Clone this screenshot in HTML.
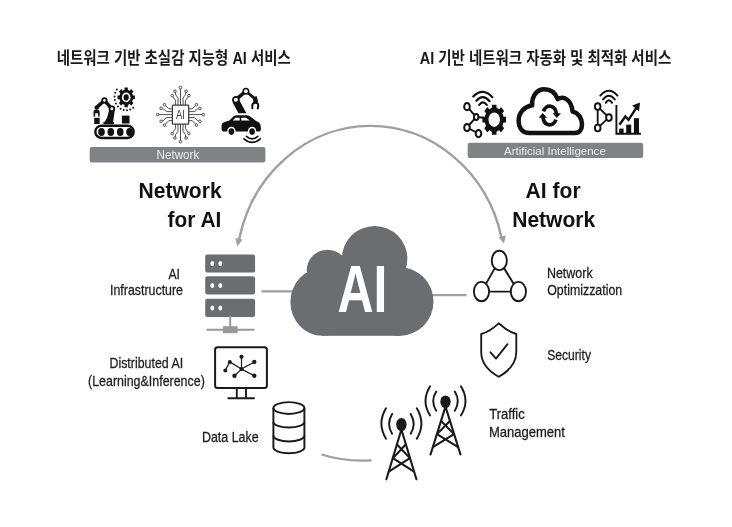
<!DOCTYPE html>
<html lang="ko">
<head>
<meta charset="utf-8">
<title>Network for AI / AI for Network</title>
<style>
html,body{margin:0;padding:0;background:#fff;}
body{width:732px;height:527px;overflow:hidden;font-family:"Liberation Sans",sans-serif;}
svg{display:block;filter:blur(0.4px);}
text{font-family:"Liberation Sans",sans-serif;}
.lbl{font-size:14.8px;fill:#1c1c1c;stroke:#1c1c1c;stroke-width:0.28px;}
.big{font-size:21.6px;font-weight:bold;fill:#111;}
.bar{font-size:12.2px;fill:#ededed;}
.ttl{font-family:"Liberation Sans","Noto Sans CJK KR",sans-serif;font-size:16.5px;font-weight:bold;fill:#1a1a1a;}
</style>
</head>
<body>
<svg width="732" height="527" viewBox="0 0 732 527">
<rect width="732" height="527" fill="#ffffff"/>

<!-- Korean titles -->
<text id="title-left" class="ttl" x="56.7" y="64.2" textLength="234.1" lengthAdjust="spacingAndGlyphs">네트워크 기반 초실감 지능형 AI 서비스</text>
<text id="title-right" class="ttl" x="419.8" y="64.1" textLength="251.5" lengthAdjust="spacingAndGlyphs">AI 기반 네트워크 자동화 및 최적화 서비스</text>

<!-- ===== big arc with arrows ===== -->
<g id="arc" fill="none" stroke="#9d9fa2" stroke-width="2.4">
  <path d="M239.1 239.5 A134.5 144.4 0 0 1 501.5 237.5"/>
</g>
<path fill="#9d9fa2" d="M237.2 246.6 L235.4 238 L242.6 239.6 Z"/>
<path fill="#9d9fa2" d="M503.9 243.6 L498.5 237.3 L505.9 235.4 Z"/>
<!-- bottom arc -->
<path d="M321.5 454.5 Q345 462 371.5 460.3" fill="none" stroke="#9d9fa2" stroke-width="2.2"/>
<!-- connectors -->
<path d="M261.5 291.4 H293 M433 295.2 H466.5" fill="none" stroke="#9d9fa2" stroke-width="2.3"/>

<!-- ===== bars ===== -->
<rect x="89.7" y="146.9" width="175.7" height="15.6" rx="2.2" fill="#808285"/>
<text class="bar" x="156.6" y="159.3" textLength="42.6" lengthAdjust="spacingAndGlyphs">Network</text>
<rect x="467.7" y="142.8" width="175.5" height="15.2" rx="2.2" fill="#808285"/>
<text class="bar" x="504" y="154.7" textLength="101.8" lengthAdjust="spacingAndGlyphs" style="font-size:11.8px">Artificial Intelligence</text>

<!-- ===== headings ===== -->
<text class="big" x="138.6" y="198.1" textLength="83" lengthAdjust="spacingAndGlyphs">Network</text>
<text class="big" x="167.6" y="226.8" textLength="53.8" lengthAdjust="spacingAndGlyphs">for AI</text>
<text class="big" x="525.6" y="198.1" textLength="55" lengthAdjust="spacingAndGlyphs">AI for</text>
<text class="big" x="512.2" y="226.8" textLength="83" lengthAdjust="spacingAndGlyphs">Network</text>

<!-- ===== labels ===== -->
<text class="lbl" x="168.5" y="278.9" textLength="11.5" lengthAdjust="spacingAndGlyphs">AI</text>
<text class="lbl" x="110" y="295.3" textLength="73" lengthAdjust="spacingAndGlyphs">Infrastructure</text>
<text class="lbl" x="109.5" y="368.1" textLength="73.6" lengthAdjust="spacingAndGlyphs">Distributed AI</text>
<text class="lbl" x="88" y="386.1" textLength="116.8" lengthAdjust="spacingAndGlyphs">(Learning&amp;Inference)</text>
<text class="lbl" x="202" y="441.9" textLength="56.6" lengthAdjust="spacingAndGlyphs">Data Lake</text>
<text class="lbl" x="546.9" y="278.2" textLength="45.8" lengthAdjust="spacingAndGlyphs">Network</text>
<text class="lbl" x="547.2" y="295.4" textLength="75" lengthAdjust="spacingAndGlyphs">Optimizzation</text>
<text class="lbl" x="547.2" y="359.5" textLength="43.8" lengthAdjust="spacingAndGlyphs">Security</text>
<text class="lbl" x="489.3" y="419.0" textLength="35.5" lengthAdjust="spacingAndGlyphs">Traffic</text>
<text class="lbl" x="488.9" y="437.0" textLength="76" lengthAdjust="spacingAndGlyphs">Management</text>

<!-- ===== central cloud ===== -->
<g id="cloud" fill="#6c6d70">
  <circle cx="374.6" cy="258.8" r="32.8"/>
  <circle cx="327.5" cy="270.5" r="20.8"/>
  <ellipse cx="322.4" cy="302" rx="32" ry="33.8"/>
  <circle cx="399" cy="301.5" r="34.5"/>
  <rect x="322" y="272" width="77" height="63.8"/>
</g>
<text id="ai-big" x="337.5" y="312.2" textLength="49.9" lengthAdjust="spacingAndGlyphs" style="font-size:67px;font-weight:bold;fill:#ffffff">AI</text>

<!-- ===== servers ===== -->
<g id="servers">
  <g fill="#6c6d70">
    <rect x="205.2" y="254.4" width="49.9" height="18.2" rx="2.2"/>
    <rect x="205.2" y="276.3" width="49.9" height="18.2" rx="2.2"/>
    <rect x="205.2" y="298.7" width="49.9" height="18.2" rx="2.2"/>
  </g>
  <g fill="#ffffff">
    <ellipse cx="212.3" cy="263.6" rx="1.9" ry="2.5"/><ellipse cx="220.3" cy="263.6" rx="1.9" ry="2.5"/>
    <ellipse cx="212.3" cy="285.5" rx="1.9" ry="2.5"/><ellipse cx="220.3" cy="285.5" rx="1.9" ry="2.5"/>
    <ellipse cx="212.3" cy="307.9" rx="1.9" ry="2.5"/><ellipse cx="220.3" cy="307.9" rx="1.9" ry="2.5"/>
  </g>
  <path d="M230.2 316.5 V327 M207.3 329.8 H253.7" stroke="#97999c" stroke-width="2" fill="none" stroke-linecap="round"/>
  <rect x="223" y="326.2" width="14.6" height="7" fill="#97999c"/>
</g>

<!-- ===== monitor (Distributed AI) ===== -->
<g id="monitor" fill="none" stroke="#1a1a1a">
  <rect x="215.1" y="347.3" width="51.8" height="40.6" rx="2.5" stroke-width="2"/>
  <path d="M236.8 388.5 V398 M246 388.5 V398 M228.3 398.3 H254" stroke-width="1.9" stroke-linecap="round"/>
  <path d="M241.5 369.1 L241.5 356.8 M241.5 369.1 L229.8 361.9 L225.3 370.4 M241.5 369.1 L234.5 375.7 M241.5 369.1 L254.3 361.9 M241.5 369.1 L254.3 375.7" stroke-width="1.2"/>
  <g fill="#1a1a1a" stroke="none">
    <circle cx="241.5" cy="369.1" r="2.1"/>
    <circle cx="241.5" cy="356.8" r="2.1"/>
    <circle cx="229.8" cy="361.9" r="2"/>
    <circle cx="225.3" cy="370.4" r="2"/>
    <circle cx="234.5" cy="375.7" r="2.2"/>
    <circle cx="254.3" cy="361.9" r="2.2"/>
    <circle cx="254.3" cy="375.7" r="2.2"/>
  </g>
</g>

<!-- ===== database (Data Lake) ===== -->
<g id="db" fill="none" stroke="#1a1a1a" stroke-width="1.95" stroke-linejoin="round">
  <ellipse cx="288.9" cy="408" rx="15.5" ry="5.9"/>
  <path d="M273.4 408 V447.6 A15.5 5.6 0 0 0 304.4 447.6 V408"/>
  <path d="M273.4 421.9 A15.5 5.6 0 0 0 304.4 421.9"/>
  <path d="M273.4 435.8 A15.5 5.6 0 0 0 304.4 435.8"/>
</g>

<!-- ===== network optimisation (triangle of nodes) ===== -->
<g id="tri" fill="#ffffff" stroke="#1a1a1a" stroke-width="1.9">
  <path d="M499.3 260.4 L481.5 291.6 H518.4 Z" fill="none"/>
  <ellipse cx="499.3" cy="260.4" rx="7.6" ry="9.7"/>
  <ellipse cx="481.5" cy="291.6" rx="7.6" ry="9.7"/>
  <ellipse cx="518.4" cy="291.6" rx="7.6" ry="9.7"/>
</g>

<!-- ===== shield ===== -->
<g id="shield" fill="none" stroke="#1a1a1a" stroke-width="1.85" stroke-linejoin="round" stroke-linecap="round">
  <path d="M498.7 323.3 Q490 331.5 481.2 334 V352 Q481.2 367 498.7 376.8 Q516.3 367 516.3 352 V334 Q507.5 331.5 498.7 323.3 Z"/>
  <path d="M490.5 352.3 L496 358.6 L507.5 344.2"/>
</g>

<!-- ===== towers ===== -->
<defs>
  <g id="tower" fill="none" stroke="#1a1a1a" stroke-width="2.1" stroke-linecap="round" stroke-linejoin="round">
    <ellipse cx="0" cy="0" rx="5.2" ry="6.6" fill="#1a1a1a" stroke="none"/>
    <path d="M0 5 L-15 54.8 M0 5 L15 54.8"/>
    <path d="M-4.4 20 L8.5 33.6 M4.4 20 L-8.5 33.6 M-8.5 33.6 L12.6 47.2 M8.5 33.6 L-12.6 47.2"/>
    <g stroke-width="1.95">
      <path d="M-9.3 -10.6 Q-15.3 -0.6 -9.3 9.2 M9.3 -10.6 Q15.3 -0.6 9.3 9.2"/>
      <path d="M-15.4 -16.2 Q-24.6 -0.8 -15.4 14.2 M15.4 -16.2 Q24.6 -0.8 15.4 14.2"/>
    </g>
  </g>
</defs>
<use href="#tower" transform="translate(401.4 424.5)"/>
<use href="#tower" transform="translate(445.5 401.8) scale(1 0.962)"/>

<!-- ===== top-left icons ===== -->
<g id="ic-conveyor" fill="#111">
  <!-- belt -->
  <rect x="95.3" y="125.7" width="38.4" height="12.3" rx="6.15" fill="none" stroke="#111" stroke-width="2.4"/>
  <ellipse cx="101.5" cy="132" rx="3.3" ry="3.9"/>
  <ellipse cx="110.8" cy="132" rx="3.3" ry="3.9"/>
  <ellipse cx="120.2" cy="132" rx="3.3" ry="3.9"/>
  <ellipse cx="129.5" cy="132" rx="3.3" ry="3.9"/>
  <!-- boxes -->
  <rect x="121.9" y="115.6" width="7.6" height="7.9"/>
  <rect x="94.2" y="117.8" width="5.5" height="6.2"/>
  <!-- gripper -->
  <path d="M93.5 116.5 V112.6 Q93.5 109.4 96.6 109.4 Q99.7 109.4 99.7 112.6 V116.5 H98.1 V113.2 H95.2 V116.5 Z"/>
  <circle cx="96.7" cy="107.6" r="2.2"/>
  <!-- arm -->
  <path d="M96.9 107.2 L104.4 100.4 L111.9 108.8" fill="none" stroke="#111" stroke-width="3.5" stroke-linejoin="round" stroke-linecap="round"/>
  <path d="M109 110.2 L115 108.4 L113 122.8 H104.4 Q108.2 116.6 109 110.2 Z"/>
  <path d="M103.4 124.2 H114 V122 H103.4 Z"/>
  <circle cx="104.4" cy="100.4" r="3.1"/><circle cx="104.4" cy="100.4" r="1.3" fill="#fff"/>
  <circle cx="111.9" cy="108.8" r="3.3"/><circle cx="111.9" cy="108.8" r="1.5" fill="#fff"/>
  <!-- gear -->
  <path d="M124.6 89.8L124.5 87.6L127.9 87.6L127.8 89.8L129.8 90.7L131.2 89.1L133.5 91.8L132.1 93.3L132.9 95.6L134.9 95.5L134.9 99.3L132.9 99.2L132.1 101.5L133.5 103.0L131.2 105.7L129.8 104.1L127.8 105.0L127.9 107.2L124.5 107.2L124.6 105.0L122.6 104.1L121.2 105.7L118.9 103.0L120.3 101.5L119.5 99.2L117.5 99.3L117.5 95.5L119.5 95.6L120.3 93.3L118.9 91.8L121.2 89.1L122.6 90.7Z"/>
  <ellipse cx="126.2" cy="97.4" rx="4.3" ry="4.8" fill="#fff"/>
  <ellipse cx="126.2" cy="97.4" rx="2.6" ry="3.1"/>
  <g><circle cx="116.8" cy="89.5" r="1.0"/><circle cx="115.2" cy="92.8" r="1.0"/><circle cx="114.5" cy="96.4" r="1.0"/><circle cx="114.8" cy="100.1" r="1.0"/><circle cx="115.9" cy="103.5" r="1.0"/><circle cx="117.9" cy="106.5" r="1.0"/><circle cx="120.6" cy="108.7" r="1.0"/><circle cx="123.7" cy="110.0" r="1.0"/><circle cx="127.0" cy="110.3" r="1.0"/><circle cx="130.3" cy="109.5" r="1.0"/><circle cx="133.2" cy="107.7" r="1.0"/></g>
</g>

<g id="ic-chip" fill="none" stroke="#3c3c3c" stroke-width="0.9">
  <rect x="172.4" y="105.2" width="16.3" height="19" rx="0.8" stroke-width="1.25" fill="#fff"/>
  <!-- top traces -->
  <path d="M180.5 105.2 V88.8 M178 105.2 V98 L175.5 94.5 V92.4 M183 105.2 V98 L185.5 94.5 V92.4 M175.6 105.2 V100.5 L172.8 96.8 M185.4 105.2 V100.5 L188.3 96.8"/>
  <!-- bottom traces -->
  <path d="M180.5 124 V140.4 M178 124 V131.2 L175.5 134.7 V136.8 M183 124 V131.2 L185.5 134.7 V136.8 M175.6 124 V128.7 L172.8 132.4 M185.4 124 V128.7 L188.3 132.4"/>
  <!-- left traces -->
  <path d="M172.3 114.6 H159 M172.3 111.6 H166.5 L163.2 108.8 H162.3 M172.3 117.6 H166.5 L163.2 120.8 H162.3 M172.3 108.8 H168.8 L165.4 105.6 M172.3 120.6 H168.8 L165.4 124.2"/>
  <!-- right traces -->
  <path d="M188.6 114.6 H202 M188.6 111.6 H194.5 L197.8 108.8 H198.7 M188.6 117.6 H194.5 L197.8 120.8 H198.7 M188.6 108.8 H192.2 L195.6 105.6 M188.6 120.6 H192.2 L195.6 124.2"/>
  <g fill="#fff">
    <circle cx="180.5" cy="87.5" r="1.3"/><circle cx="174.9" cy="91.2" r="1.3"/><circle cx="186.1" cy="91.2" r="1.3"/><circle cx="172.2" cy="95.6" r="1.3"/><circle cx="188.9" cy="95.6" r="1.3"/>
    <circle cx="180.5" cy="141.7" r="1.3"/><circle cx="174.9" cy="138" r="1.3"/><circle cx="186.1" cy="138" r="1.3"/><circle cx="172.2" cy="133.6" r="1.3"/><circle cx="188.9" cy="133.6" r="1.3"/>
    <circle cx="157.7" cy="114.6" r="1.3"/><circle cx="161.1" cy="108.3" r="1.3"/><circle cx="161.1" cy="121.3" r="1.3"/><circle cx="164.5" cy="104.7" r="1.3"/><circle cx="164.5" cy="125.1" r="1.3"/>
    <circle cx="203.3" cy="114.6" r="1.3"/><circle cx="199.9" cy="108.3" r="1.3"/><circle cx="199.9" cy="121.3" r="1.3"/><circle cx="196.5" cy="104.7" r="1.3"/><circle cx="196.5" cy="125.1" r="1.3"/>
  </g>
</g>
<text x="175.9" y="119" textLength="9" lengthAdjust="spacingAndGlyphs" style="font-size:12.2px;fill:#3a3a3a">AI</text>

<g id="ic-car" fill="#111">
  <!-- car body -->
  <path d="M221.6 129.6 V125 Q221.6 122.8 224.5 122 L229.3 120.4 L233.4 116.4 Q234.6 115.2 236.8 115.2 H246.5 Q248.4 115.2 249.9 116.3 L256.2 121.1 Q260.8 122.8 260.8 127 V129.8 Q260.8 131.4 259.2 131.4 H223.2 Q221.6 131.4 221.6 129.6 Z"/>
  <path d="M232.8 120.4 L235.4 117.7 H239.7 V120.4 Z M241.3 117.7 H246 L249.8 120.4 H241.3 Z" fill="#fff"/>
  <ellipse cx="231.4" cy="131.4" rx="4.2" ry="4.7" fill="#fff"/>
  <ellipse cx="231.4" cy="131.6" rx="2.8" ry="3.3"/>
  <ellipse cx="252.1" cy="131.4" rx="4.2" ry="4.7" fill="#fff"/>
  <ellipse cx="252.1" cy="131.6" rx="2.8" ry="3.3"/>
  <!-- wifi arcs below wheel -->
  <path d="M246.4 136.4 Q252.1 141.4 257.8 136.4 M243.9 138.8 Q252.1 146 260.3 138.8" fill="none" stroke="#111" stroke-width="1.6" stroke-linecap="round"/>
  <!-- robot arm -->
  <path d="M235.9 99.7 L245.9 91.2" fill="none" stroke="#111" stroke-width="3.6" stroke-linecap="round"/>
  <path d="M245.9 91.2 L254.8 98.6" fill="none" stroke="#111" stroke-width="2.7" stroke-linecap="round"/>
  <path d="M232.6 102.2 L239.4 100.2 L246.4 113.2 H238.4 Z"/>
  <circle cx="235.9" cy="99.7" r="3.8"/><circle cx="235.9" cy="99.7" r="2" fill="#fff"/>
  <circle cx="245.9" cy="91.2" r="3.5"/><circle cx="245.9" cy="91.2" r="1.9" fill="#fff"/>
  <path d="M252.3 108.2 V105.6 Q252.3 102.8 255.3 102.8 Q258.5 102.8 258.2 105.6 L257.8 108.4" fill="none" stroke="#111" stroke-width="2" stroke-linecap="round"/>
  <path d="M252.9 97.4 L256.6 96 L258.2 102 L253.4 103.2 Z"/>
</g>

<!-- ===== top-right icons ===== -->
<g id="ic-netgear" fill="#111">
  <path d="M491.9 107.7L491.9 104.7L496.5 104.7L496.5 107.7L499.2 109.2L501.0 107.0L504.1 111.1L502.4 113.3L503.6 116.8L506.0 116.8L506.0 122.6L503.6 122.6L502.4 126.1L504.1 128.3L501.0 132.4L499.2 130.2L496.5 131.7L496.5 134.7L491.9 134.7L491.9 131.7L489.2 130.2L487.4 132.4L484.3 128.3L486.0 126.1L484.8 122.6L482.4 122.6L482.4 116.8L484.8 116.8L486.0 113.3L484.3 111.1L487.4 107.0L489.2 109.2Z"/>
  <ellipse cx="494.2" cy="119.7" rx="5.7" ry="7.3" fill="#fff"/>
  <path d="M467 106.6 L476.2 117 L467 127.5 L478.4 133.5 M476.2 117 L484 117.8" fill="none" stroke="#111" stroke-width="1.9"/>
  <g fill="#fff" stroke="#111" stroke-width="2">
    <ellipse cx="467" cy="106.7" rx="2.8" ry="3.6"/>
    <ellipse cx="476.2" cy="117" rx="2.2" ry="2.9"/>
    <ellipse cx="467" cy="127.5" rx="2.8" ry="3.6"/>
    <ellipse cx="478.5" cy="133.6" rx="2.8" ry="3.6"/>
  </g>
  <g fill="none" stroke="#111" stroke-width="2.15" stroke-linecap="round">
    <path d="M473.2 96.6 Q482.8 86.8 492.4 97.2"/>
    <path d="M476.4 100.8 Q482.8 93.2 489.6 101.2"/>
    <path d="M479.2 104.8 Q482.8 99.8 486.8 104.8"/>
  </g>
</g>

<g id="ic-cloudsync" fill="none" stroke="#111">
  <path stroke-width="4.5" stroke-linejoin="round" d="M529.4 133 C521 133 518.6 126.5 518.6 120.7 C518.6 112 524.8 106.5 532.2 105.3 C531.5 96 537 89.2 544.2 89.2 C550.5 89.2 555.5 93 557.8 99.1 C563.5 95.5 571.5 99.5 572.6 111.6 C578.5 112.5 582 118.5 582 124.5 C582 129.5 579.5 133 574.9 133 Z"/>
  <path stroke-width="3.7" d="M543.4 111.4 A6.9 9 0 0 1 556.5 114"/>
  <path stroke-width="3.7" d="M556 119.6 A6.9 9 0 0 1 542.9 117"/>
  <path fill="#111" stroke="none" d="M552.6 113.2 H561 L556.8 118 Z M547.2 117.8 H538.6 L542.6 113 Z"/>
</g>

<g id="ic-chart" fill="#111">
  <path d="M616.4 104.9 V133.8 H640.9" fill="none" stroke="#111" stroke-width="1.9"/>
  <rect x="619.2" y="128.6" width="4.4" height="4.6"/>
  <rect x="626.2" y="124.6" width="5" height="8.6"/>
  <rect x="633.9" y="118.2" width="5.1" height="15"/>
  <path d="M619.4 124.7 L625.4 116.5 L628.5 119.8 L636.2 108.2" fill="none" stroke="#111" stroke-width="2.4"/>
  <path d="M640 102.4 L632.2 105.5 L639 111.6 Z"/>
  <path d="M597.7 106.6 L608.9 117.6 L597.7 128 Z" fill="none" stroke="#111" stroke-width="1.8"/>
  <g fill="#fff" stroke="#111" stroke-width="1.9">
    <ellipse cx="597.7" cy="106.6" rx="2.8" ry="3.4"/>
    <ellipse cx="608.9" cy="117.6" rx="2.8" ry="3.4"/>
    <ellipse cx="597.7" cy="128" rx="2.8" ry="3.4"/>
  </g>
  <g fill="none" stroke="#111" stroke-width="2" stroke-linecap="round">
    <path d="M600.3 95.6 Q608.9 86 617.5 95.6"/>
    <path d="M603.1 99.4 Q608.9 92 614.8 99.4"/>
    <path d="M605.8 102.8 Q608.9 97.6 612 102.8"/>
  </g>
</g>
</svg>
</body>
</html>
